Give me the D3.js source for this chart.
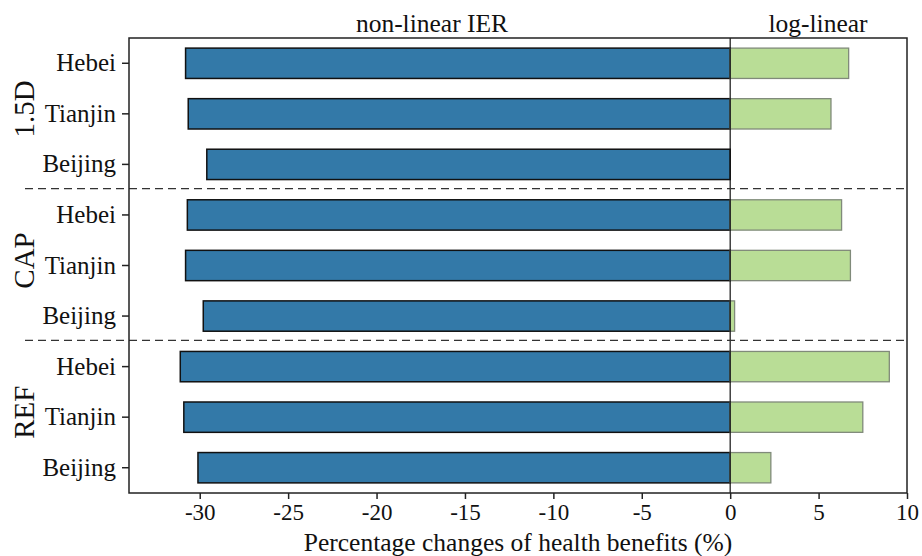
<!DOCTYPE html>
<html>
<head>
<meta charset="utf-8">
<script src="https://cdn.jsdelivr.net/npm/d3@7"></script>
<style>
  body { margin: 0; background: #fff; }
  text { font-family: "Liberation Serif", "Times New Roman", serif; fill: #111; }
</style>
</head>
<body>
<svg id="chart"></svg>
<script>
// scenarios, top to bottom
var groups = ["1.5D", "CAP", "REF"];
var provinces = ["Hebei", "Tianjin", "Beijing"];
// non-linear IER (%), per group, per province
var ierValues = [
    [-30.8, -30.65, -29.6],
    [-30.7, -30.8, -29.8],
    [-31.1, -30.9, -30.1]
];
// log-linear (%)
var logValues = [
    [6.7, 5.7, 0],
    [6.3, 6.8, 0.25],
    [9.0, 7.5, 2.3]
];
var xTicks = [-30, -25, -20, -15, -10, -5, 0, 5, 10];

var WIDTH = 922, HEIGHT = 556;
var mLeft = 129, mRight = 907, mTop = 38, mBottom = 493;

var rows = [];
groups.forEach(function (g, gi) {
    provinces.forEach(function (p, pi) {
        rows.push({ key: g + "|" + p, group: g, prov: p, ier: ierValues[gi][pi], log: logValues[gi][pi] });
    });
});

var svg = d3.select("#chart").attr("width", WIDTH).attr("height", HEIGHT);

var x = d3.scaleLinear().domain([-34, 10]).range([mLeft, mRight]);
var y = d3.scaleBand().domain(rows.map(function (d) { return d.key; }))
    .range([mTop, mBottom]).paddingInner(0.4).paddingOuter(0.2);

// blue bars
svg.selectAll(".ier").data(rows).enter().append("rect")
    .attr("class", "ier")
    .attr("x", function (d) { return x(d.ier); })
    .attr("y", function (d) { return y(d.key); })
    .attr("width", function (d) { return x(0) - x(d.ier); })
    .attr("height", y.bandwidth())
    .attr("fill", "#3379a8")
    .attr("stroke", "#111")
    .attr("stroke-width", 1.5);

// green bars
svg.selectAll(".log").data(rows.filter(function (d) { return d.log > 0; })).enter().append("rect")
    .attr("class", "log")
    .attr("x", x(0))
    .attr("y", function (d) { return y(d.key); })
    .attr("width", function (d) { return x(d.log) - x(0); })
    .attr("height", y.bandwidth())
    .attr("fill", "#b9dd96")
    .attr("stroke", "#808a7a")
    .attr("stroke-width", 1.3);

// zero line
svg.append("line")
    .attr("x1", x(0)).attr("x2", x(0))
    .attr("y1", mTop).attr("y2", mBottom)
    .attr("stroke", "#111").attr("stroke-width", 1.2);

// dashed separators between scenarios
var step = y.step();
[3, 6].forEach(function (i) {
    var yy = y(rows[i].key) - (step - y.bandwidth()) / 2 - 1;
    svg.append("line")
        .attr("x1", 25).attr("x2", mRight)
        .attr("y1", yy).attr("y2", yy)
        .attr("stroke", "#333").attr("stroke-width", 1.3)
        .attr("stroke-dasharray", "8,5");
});

// frame
svg.append("rect")
    .attr("x", mLeft).attr("y", mTop)
    .attr("width", mRight - mLeft).attr("height", mBottom - mTop)
    .attr("fill", "none").attr("stroke", "#222").attr("stroke-width", 1.5);

// x axis
var xAxis = svg.append("g")
    .attr("transform", "translate(0," + mBottom + ")")
    .call(d3.axisBottom(x).tickValues(xTicks).tickSize(6).tickPadding(5).tickFormat(function (d) { return String(d); }));
xAxis.select(".domain").remove();
xAxis.selectAll("line").attr("stroke", "#222").attr("stroke-width", 1.5);
xAxis.selectAll("text").style("font-size", "23px").attr("fill", "#111")
    .style("font-family", "'Liberation Serif', serif");

// y axis
var yAxis = svg.append("g")
    .attr("transform", "translate(" + mLeft + ",0)")
    .call(d3.axisLeft(y).tickSize(7).tickPadding(6).tickFormat(function (k) { return k.split("|")[1]; }));
yAxis.select(".domain").remove();
yAxis.selectAll("line").attr("stroke", "#222").attr("stroke-width", 1.5);
yAxis.selectAll("text").style("font-size", "25px").attr("fill", "#111")
    .style("font-family", "'Liberation Serif', serif");

// group labels
groups.forEach(function (g, gi) {
    var cy = (y(rows[gi * 3].key) + y(rows[gi * 3 + 2].key) + y.bandwidth()) / 2 - 5;
    svg.append("text")
        .attr("transform", "translate(34," + cy + ") rotate(-90)")
        .attr("text-anchor", "middle")
        .style("font-size", "29px")
        .text(g);
});

// top labels
svg.append("text")
    .attr("x", 432).attr("y", 32)
    .attr("text-anchor", "middle")
    .style("font-size", "25.5px")
    .text("non-linear IER");
svg.append("text")
    .attr("x", 818).attr("y", 32)
    .attr("text-anchor", "middle")
    .style("font-size", "25.5px")
    .text("log-linear");

// x title
svg.append("text")
    .attr("x", 518).attr("y", 551)
    .attr("text-anchor", "middle")
    .style("font-size", "25.5px")
    .text("Percentage changes of health benefits (%)");
</script>
</body>
</html>
